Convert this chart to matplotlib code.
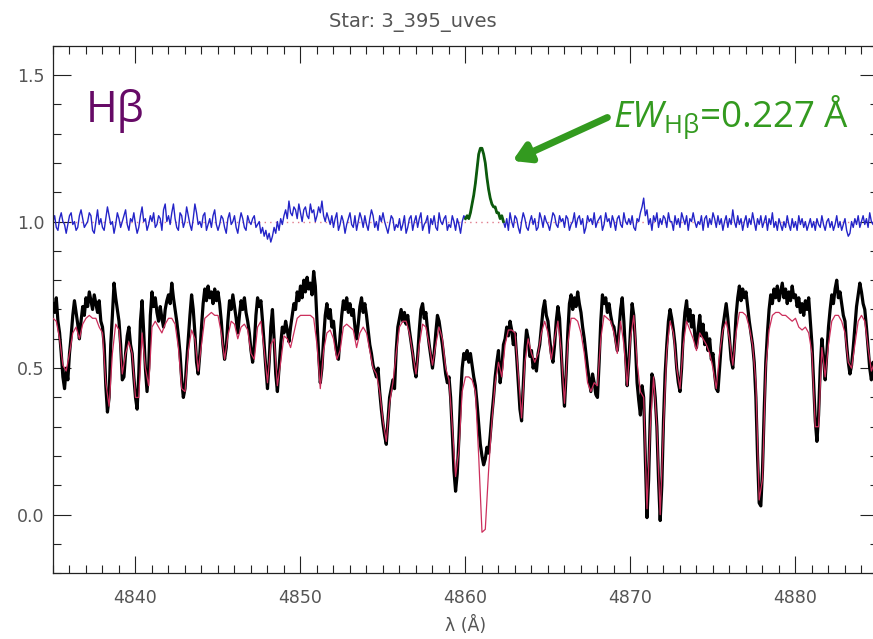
#!/usr/bin/env python
# -*- coding: utf-8 -*-
"""
Hbeta region of 3_395_uves: observed spectrum, synthetic fit and
the (obs - fit + 1) residual with the chromospheric emission core.
"""

import numpy as np
import matplotlib
matplotlib.use("Agg")
import matplotlib.pyplot as plt
from matplotlib.ticker import MultipleLocator
import matplotlib.patheffects as pe

# wavelength grids (Angstrom)
wl_obs = np.round(np.arange(4835.0, 4885.0001, 0.1), 2)   # observed + residual
wl_fit = np.round(np.arange(4835.0, 4885.0001, 0.2), 2)   # synthetic

# observed normalised flux, one row per Angstrom (.0 ... .9)
flux_obs = [
    0.72, 0.69, 0.74, 0.66, 0.62, 0.55, 0.47, 0.43, 0.50, 0.46,
    0.55, 0.61, 0.68, 0.73, 0.69, 0.65, 0.60, 0.66, 0.71, 0.68,
    0.74, 0.71, 0.76, 0.73, 0.70, 0.75, 0.72, 0.69, 0.73, 0.66,
    0.64, 0.58, 0.44, 0.35, 0.40, 0.58, 0.68, 0.79, 0.74, 0.70,
    0.66, 0.58, 0.46, 0.47, 0.55, 0.61, 0.64, 0.58, 0.55, 0.47,
    0.40, 0.36, 0.48, 0.66, 0.73, 0.62, 0.50, 0.42, 0.50, 0.68,
    0.76, 0.71, 0.74, 0.69, 0.66, 0.71, 0.67, 0.64, 0.70, 0.73,
    0.75, 0.72, 0.79, 0.74, 0.70, 0.66, 0.61, 0.55, 0.46, 0.40,
    0.43, 0.52, 0.60, 0.68, 0.75, 0.70, 0.62, 0.52, 0.48, 0.55,
    0.64, 0.72, 0.77, 0.73, 0.78, 0.74, 0.76, 0.72, 0.77, 0.73,
    0.76, 0.72, 0.66, 0.58, 0.53, 0.57, 0.66, 0.73, 0.70, 0.75,
    0.71, 0.67, 0.62, 0.68, 0.73, 0.70, 0.74, 0.69, 0.66, 0.62,
    0.56, 0.52, 0.58, 0.68, 0.74, 0.71, 0.73, 0.66, 0.58, 0.50,
    0.43, 0.52, 0.64, 0.70, 0.60, 0.48, 0.42, 0.50, 0.58, 0.64,
    0.62, 0.66, 0.63, 0.59, 0.64, 0.68, 0.72, 0.70, 0.76, 0.73,
    0.78, 0.74, 0.80, 0.76, 0.81, 0.77, 0.79, 0.75, 0.83, 0.78,
    0.66, 0.55, 0.45, 0.50, 0.60, 0.68, 0.72, 0.67, 0.70, 0.64,
    0.66, 0.60, 0.55, 0.53, 0.61, 0.68, 0.73, 0.70, 0.74, 0.69,
    0.72, 0.68, 0.70, 0.64, 0.60, 0.65, 0.71, 0.74, 0.69, 0.72,
    0.68, 0.63, 0.58, 0.55, 0.51, 0.49, 0.47, 0.50, 0.42, 0.36,
    0.31, 0.27, 0.24, 0.32, 0.40, 0.43, 0.46, 0.43, 0.56, 0.64,
    0.67, 0.70, 0.66, 0.69, 0.65, 0.68, 0.63, 0.59, 0.55, 0.50,
    0.47, 0.54, 0.63, 0.70, 0.72, 0.67, 0.69, 0.63, 0.58, 0.54,
    0.50, 0.55, 0.62, 0.68, 0.66, 0.62, 0.58, 0.53, 0.48, 0.45,
    0.47, 0.40, 0.28, 0.15, 0.08, 0.14, 0.26, 0.40, 0.50, 0.55,
    0.53, 0.56, 0.52, 0.55, 0.51, 0.47, 0.44, 0.38, 0.31, 0.24,
    0.20, 0.17, 0.19, 0.23, 0.21, 0.27, 0.34, 0.40, 0.47, 0.52,
    0.56, 0.45, 0.50, 0.58, 0.60, 0.64, 0.61, 0.66, 0.63, 0.58,
    0.62, 0.54, 0.45, 0.36, 0.32, 0.44, 0.56, 0.63, 0.60, 0.54,
    0.56, 0.50, 0.53, 0.49, 0.55, 0.58, 0.64, 0.70, 0.73, 0.68,
    0.66, 0.60, 0.55, 0.52, 0.58, 0.66, 0.71, 0.67, 0.56, 0.45,
    0.37, 0.48, 0.62, 0.72, 0.75, 0.70, 0.74, 0.71, 0.76, 0.72,
    0.69, 0.64, 0.60, 0.55, 0.50, 0.46, 0.42, 0.48, 0.45, 0.41,
    0.40, 0.52, 0.66, 0.75, 0.72, 0.74, 0.69, 0.72, 0.68, 0.65,
    0.64, 0.60, 0.56, 0.63, 0.70, 0.74, 0.66, 0.55, 0.44, 0.52,
    0.63, 0.72, 0.68, 0.58, 0.45, 0.39, 0.34, 0.44, 0.40, 0.20,
    -0.01, 0.12, 0.34, 0.48, 0.46, 0.40, 0.30, 0.12, -0.02, 0.10,
    0.32, 0.48, 0.58, 0.66, 0.70, 0.67, 0.63, 0.58, 0.50, 0.45,
    0.42, 0.50, 0.62, 0.69, 0.73, 0.66, 0.70, 0.64, 0.68, 0.61,
    0.57, 0.63, 0.68, 0.61, 0.65, 0.58, 0.62, 0.56, 0.60, 0.53,
    0.55, 0.48, 0.43, 0.42, 0.50, 0.58, 0.64, 0.68, 0.72, 0.67,
    0.60, 0.53, 0.50, 0.58, 0.68, 0.74, 0.78, 0.73, 0.77, 0.74,
    0.76, 0.71, 0.66, 0.62, 0.58, 0.52, 0.40, 0.20, 0.04, 0.03,
    0.15, 0.35, 0.52, 0.62, 0.70, 0.75, 0.72, 0.77, 0.74, 0.78,
    0.73, 0.76, 0.79, 0.74, 0.77, 0.72, 0.76, 0.73, 0.78, 0.74,
    0.75, 0.71, 0.74, 0.69, 0.72, 0.68, 0.73, 0.70, 0.74, 0.66,
    0.58, 0.45, 0.32, 0.25, 0.34, 0.50, 0.60, 0.54, 0.46, 0.55,
    0.64, 0.70, 0.75, 0.72, 0.77, 0.80, 0.74, 0.76, 0.72, 0.68,
    0.66, 0.58, 0.52, 0.48, 0.51, 0.57, 0.64, 0.71, 0.75, 0.79,
    0.76, 0.72, 0.70, 0.64, 0.57, 0.50, 0.46, 0.52, 0.48, 0.50,
    0.52,
]

# synthetic spectrum, one row per Angstrom (.0 .2 .4 .6 .8)
flux_fit = [
    0.67, 0.66, 0.60, 0.51, 0.49,
    0.55, 0.62, 0.64, 0.60, 0.65,
    0.67, 0.68, 0.67, 0.67, 0.64,
    0.62, 0.45, 0.37, 0.55, 0.65,
    0.63, 0.48, 0.55, 0.59, 0.55,
    0.40, 0.40, 0.62, 0.50, 0.44,
    0.64, 0.66, 0.64, 0.62, 0.65,
    0.67, 0.67, 0.65, 0.57, 0.43,
    0.42, 0.56, 0.63, 0.60, 0.49,
    0.58, 0.67, 0.68, 0.69, 0.68,
    0.68, 0.62, 0.53, 0.61, 0.66,
    0.65, 0.60, 0.64, 0.65, 0.63,
    0.55, 0.53, 0.64, 0.66, 0.56,
    0.45, 0.58, 0.60, 0.44, 0.52,
    0.61, 0.60, 0.57, 0.62, 0.67,
    0.68, 0.68, 0.68, 0.68, 0.67,
    0.58, 0.43, 0.56, 0.62, 0.63,
    0.60, 0.53, 0.56, 0.64, 0.65,
    0.64, 0.63, 0.57, 0.62, 0.64,
    0.62, 0.56, 0.50, 0.48, 0.42,
    0.32, 0.25, 0.38, 0.45, 0.55,
    0.64, 0.66, 0.66, 0.62, 0.55,
    0.48, 0.58, 0.65, 0.64, 0.58,
    0.51, 0.58, 0.64, 0.60, 0.50,
    0.46, 0.30, 0.13, 0.22, 0.42,
    0.47, 0.47, 0.46, 0.42, 0.20,
    -0.06, -0.05, 0.15, 0.32, 0.45,
    0.52, 0.47, 0.58, 0.63, 0.63,
    0.62, 0.48, 0.33, 0.52, 0.60,
    0.55, 0.52, 0.55, 0.62, 0.66,
    0.62, 0.53, 0.60, 0.66, 0.56,
    0.38, 0.58, 0.67, 0.67, 0.66,
    0.62, 0.55, 0.45, 0.42, 0.45,
    0.44, 0.60, 0.68, 0.67, 0.66,
    0.62, 0.55, 0.66, 0.58, 0.44,
    0.60, 0.68, 0.52, 0.42, 0.40,
    0.02, 0.30, 0.47, 0.30, 0.00,
    0.30, 0.56, 0.66, 0.62, 0.50,
    0.43, 0.58, 0.66, 0.63, 0.60,
    0.56, 0.62, 0.60, 0.58, 0.55,
    0.50, 0.43, 0.55, 0.63, 0.66,
    0.60, 0.51, 0.62, 0.69, 0.69,
    0.68, 0.64, 0.58, 0.45, 0.05,
    0.12, 0.50, 0.63, 0.68, 0.69,
    0.69, 0.68, 0.68, 0.67, 0.66,
    0.67, 0.64, 0.63, 0.64, 0.62,
    0.55, 0.30, 0.30, 0.57, 0.47,
    0.58, 0.66, 0.68, 0.68, 0.66,
    0.62, 0.52, 0.50, 0.58, 0.66,
    0.68, 0.66, 0.57, 0.49, 0.52,
    0.55,
]

# residual obs - fit + 1, same grid as the observed spectrum
resid = [
    1.00, 1.02, 0.98, 0.97, 1.01, 1.03, 1.00, 0.99, 0.96, 0.99,
    1.02, 1.03, 0.99, 1.00, 0.97, 0.98, 1.02, 1.04, 1.01, 0.98,
    0.99, 1.00, 1.03, 1.02, 0.97, 0.96, 1.00, 1.04, 0.99, 1.01,
    0.98, 0.97, 1.01, 1.05, 1.02, 0.99, 1.00, 0.96, 0.99, 1.03,
    1.01, 0.98, 1.00, 1.02, 1.04, 0.99, 0.97, 1.01, 1.00, 1.03,
    0.99, 0.96, 0.98, 1.02, 1.05, 1.00, 1.01, 0.97, 0.99, 1.02,
    1.00, 1.03, 0.98, 0.99, 1.02, 1.01, 0.97, 1.04, 1.06, 1.00,
    1.02, 0.99, 1.03, 1.06, 1.01, 0.98, 0.97, 1.03, 1.02, 0.98,
    1.00, 1.05, 1.02, 0.99, 0.97, 1.01, 1.06, 1.03, 0.99, 1.00,
    0.98, 1.02, 1.03, 0.97, 0.99, 1.01, 0.98, 1.02, 1.04, 0.99,
    0.97, 0.99, 1.02, 1.01, 0.98, 0.96, 1.01, 1.03, 0.99, 1.00,
    1.02, 0.98, 0.96, 1.00, 1.03, 1.01, 0.98, 0.97, 1.02, 1.00,
    0.99, 1.01, 1.02, 0.98, 0.99, 1.00, 0.96, 0.98, 0.95, 0.97,
    0.94, 0.96, 0.93, 0.95, 0.98, 0.96, 1.00, 0.97, 1.01, 0.99,
    1.02, 1.04, 1.01, 1.07, 1.03, 1.02, 1.05, 1.04, 1.01, 1.06,
    1.03, 1.00, 1.04, 1.05, 1.02, 1.01, 1.06, 1.03, 1.04, 1.00,
    1.02, 1.05, 1.03, 1.07, 1.02, 1.00, 1.03, 1.01, 0.99, 1.02,
    0.98, 1.01, 1.03, 0.97, 0.99, 1.02, 1.00, 0.96, 0.99, 1.01,
    1.03, 0.99, 0.98, 1.02, 0.97, 1.00, 1.03, 1.01, 0.98, 1.02,
    0.99, 0.97, 1.01, 1.04, 1.02, 0.98, 1.00, 0.97, 1.02, 1.00,
    1.03, 1.00, 0.98, 0.96, 0.99, 1.02, 1.01, 0.97, 0.99, 0.98,
    1.01, 0.97, 0.99, 1.02, 0.96, 0.98, 1.01, 1.02, 0.97, 1.00,
    1.02, 0.98, 1.01, 1.03, 0.97, 0.99, 1.00, 1.02, 0.96, 1.01,
    0.99, 1.02, 0.98, 0.97, 1.03, 1.00, 0.99, 1.01, 1.02, 0.97,
    0.99, 0.98, 1.02, 1.00, 0.97, 1.01, 0.99, 0.96, 1.00, 1.02,
    1.01, 1.02, 1.01, 1.03, 1.06, 1.09, 1.13, 1.18, 1.23, 1.25,
    1.25, 1.23, 1.20, 1.15, 1.11, 1.08, 1.06, 1.05, 1.05, 1.03,
    1.03, 1.01, 1.02, 1.00, 0.98, 1.01, 0.97, 1.03, 1.00, 0.98,
    1.02, 1.01, 0.98, 0.96, 1.00, 1.03, 1.01, 0.98, 0.97, 1.00,
    1.02, 0.99, 1.01, 0.97, 0.98, 1.03, 1.01, 0.98, 1.02, 1.00,
    0.99, 0.97, 1.00, 1.03, 1.02, 0.99, 0.98, 1.02, 1.00, 1.01,
    0.98, 1.02, 1.01, 0.97, 0.99, 1.00, 1.03, 0.98, 1.01, 1.02,
    0.99, 1.01, 0.96, 0.98, 1.02, 1.00, 1.01, 0.99, 1.03, 0.98,
    1.00, 1.01, 1.02, 0.97, 0.99, 1.03, 1.00, 1.01, 0.98, 1.02,
    1.00, 0.97, 1.01, 1.02, 0.99, 0.98, 1.03, 1.00, 0.99, 1.01,
    0.99, 1.02, 0.98, 0.97, 1.01, 1.00, 1.03, 1.05, 1.08, 1.02,
    1.04, 0.99, 1.01, 0.97, 1.02, 1.00, 1.03, 0.98, 1.01, 0.99,
    1.02, 1.01, 0.98, 1.03, 1.00, 1.00, 0.97, 1.02, 0.99, 1.01,
    0.98, 1.03, 1.01, 0.99, 1.02, 0.97, 1.01, 1.00, 1.03, 1.00,
    0.98, 1.00, 0.99, 1.02, 0.97, 1.01, 1.02, 0.98, 1.01, 0.99,
    1.03, 1.01, 0.98, 1.02, 0.99, 1.01, 0.97, 1.00, 1.02, 0.98,
    1.01, 0.99, 1.04, 1.00, 0.98, 1.02, 0.99, 1.01, 0.97, 1.00,
    1.02, 0.98, 1.01, 0.99, 1.03, 1.00, 0.97, 1.01, 0.99, 1.02,
    0.98, 1.00, 1.02, 0.97, 1.01, 0.99, 1.03, 0.98, 1.00, 0.97,
    1.01, 0.99, 0.97, 1.00, 0.98, 1.02, 0.99, 0.97, 1.01, 0.98,
    1.00, 0.97, 1.02, 0.99, 1.01, 0.98, 1.00, 0.97, 0.99, 1.01,
    0.98, 1.00, 0.97, 1.01, 0.99, 0.98, 1.02, 0.99, 0.97, 1.00,
    1.01, 0.98, 1.00, 0.97, 0.99, 1.02, 0.98, 1.00, 0.97, 0.99,
    1.01, 0.97, 0.95, 0.96, 1.00, 0.98, 1.01, 0.99, 1.02, 0.98,
    1.00, 1.02, 0.99, 1.01, 0.98, 1.03, 1.00, 0.99, 1.02, 1.00,
    1.01,
]

# integration window of the Hbeta emission core
core_lo, core_hi = 4860.0, 4862.3
ew_hb = "0.227"

flux_obs = np.array(flux_obs)
flux_fit = np.array(flux_fit)
resid = np.array(resid)
core = (wl_obs >= core_lo) & (wl_obs <= core_hi + 1e-6)

plt.rcParams['mathtext.fontset'] = 'custom'
plt.rcParams['mathtext.rm'] = 'Open Sans'
plt.rcParams['mathtext.it'] = 'Open Sans:italic'

fig = plt.figure(figsize=(8.73, 6.39), dpi=100)
ax = fig.add_axes([0.0607, 0.1028, 0.945, 0.8257])

grey = '#555555'

# residual with reference level
ax.axhline(1.0, color='#e07a8a', lw=1.0, ls=(0, (1, 3)), zorder=1)
ax.plot(wl_obs, resid, color='#2424c8', lw=1.0, zorder=2)
ax.plot(wl_obs[core], resid[core], color='#0c5a0c', lw=2.0, zorder=3)

# spectrum and fit
ax.plot(wl_obs, flux_obs, color='black', lw=2.3, zorder=4)
ax.plot(wl_fit, flux_fit, color='#cc2f5c', lw=0.9, zorder=5)

ax.set_xlim(4835, 4885)
ax.set_ylim(-0.2, 1.6)
ax.xaxis.set_major_locator(MultipleLocator(10))
ax.xaxis.set_minor_locator(MultipleLocator(1))
ax.yaxis.set_major_locator(MultipleLocator(0.5))
ax.yaxis.set_minor_locator(MultipleLocator(0.1))
ax.yaxis.set_major_formatter(plt.FormatStrFormatter('%.1f'))
ax.tick_params(which='both', direction='in', top=True, right=True,
               labelsize=12.5, labelcolor=grey, color='#222222', width=0.8)
ax.tick_params(axis='x', which='major', length=12, pad=11)
ax.tick_params(axis='y', which='major', length=13, pad=6)
ax.tick_params(which='minor', length=5.5)
for side in ax.spines.values():
    side.set_linewidth(0.9)
    side.set_color('#222222')

ax.set_xlabel('λ (Å)', fontsize=12.5, color=grey, labelpad=7)
fig.text(413 / 873, 1 - 22 / 639, 'Star: 3_395_uves', ha='center', va='center',
         fontsize=14, color=grey)

ax.text(4837.0, 1.341, 'Hβ', fontsize=31, color='#660a66',
        family='Open Sans', va='baseline')

green = '#339a1f'
ax.annotate('', xy=(4862.85, 1.207), xytext=(4868.6, 1.355),
            arrowprops=dict(arrowstyle='-|>,head_length=1.0,head_width=0.6',
                            color=green, lw=5, shrinkA=0, shrinkB=0,
                            path_effects=[pe.SimplePatchShadow(offset=(2, -2), alpha=0.25),
                                          pe.Normal()]))
ax.text(4868.95, 1.321, r'$\mathit{EW}_{\mathrm{H\beta}}$=' + ew_hb + ' Å',
        fontsize=26.5, color=green, family='Open Sans', va='baseline')

fig.savefig('out.png', dpi=100)
